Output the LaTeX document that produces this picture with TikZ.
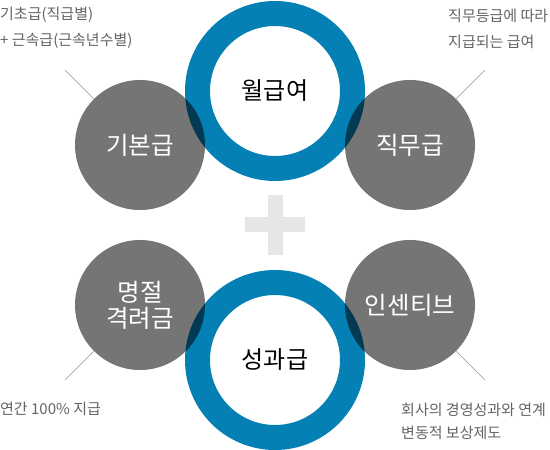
\documentclass[tikz,border=0pt]{standalone}
\usepackage{fontspec}
\setmainfont{Noto Sans CJK KR}
\definecolor{ringblue}{RGB}{4,128,180}
\definecolor{notegray}{RGB}{100,100,100}
\definecolor{leadgray}{RGB}{150,150,150}
\definecolor{plusgray}{RGB}{230,230,230}
\begin{document}
\begin{tikzpicture}[x=1bp,y=-1bp,
 ring/.style={circle, draw=ringblue, line width=25bp, minimum size=155bp, inner sep=0pt, font=\fontsize{24bp}{28bp}\selectfont, text=black},
 bubble/.style={circle, fill=black, fill opacity=0.54, text opacity=1, text=white, minimum size=130bp, inner sep=0pt, align=center, font=\fontsize{24.5bp}{26bp}\selectfont},
 note/.style={text=notegray, inner sep=0pt, align=left, anchor=west},
 leader/.style={draw=leadgray, line width=0.6bp}]
\useasboundingbox[fill=white] (0,0) rectangle (550,450);
% plus sign
\fill[plusgray] (267.5,195) rectangle (282.5,255);
\fill[plusgray] (245,217.5) rectangle (305,232.5);
% rings
\node[ring] (wg) at (275,91) {월급여};
\node[ring] (sg) at (275,360) {성과급};
% bubbles
\node[bubble] (kb) at (140,145) {기본급};
\node[bubble] (jm) at (410,145) {직무급};
\node[bubble] (mj) at (140,305) {명절\\격려금};
\node[bubble] (is) at (410,305) {인센티브};
% leader ends
\coordinate (tl) at (65,70);
\coordinate (tr) at (485,70);
\coordinate (bl) at (65,380);
\coordinate (br) at (485,380);
\draw[leader] (tl) -- (kb.135);
\draw[leader] (tr) -- (jm.45);
\draw[leader] (bl) -- (mj.225);
\draw[leader] (br) -- (is.315);
% notes
\node[note, font=\fontsize{15bp}{26bp}\selectfont] (n1) at (0,28) {기초급(직급별)\\+ 근속급(근속년수별)};
\node[note, font=\fontsize{15bp}{26bp}\selectfont] (n2) at (448,28.5) {직무등급에 따라\\지급되는 급여};
\node[note, font=\fontsize{15bp}{23bp}\selectfont] (n3) at (0,409) {연간 100\% 지급};
\node[note, font=\fontsize{15bp}{23bp}\selectfont] (n4) at (401,421) {회사의 경영성과와 연계\\변동적 보상제도};
\end{tikzpicture}
\end{document}
